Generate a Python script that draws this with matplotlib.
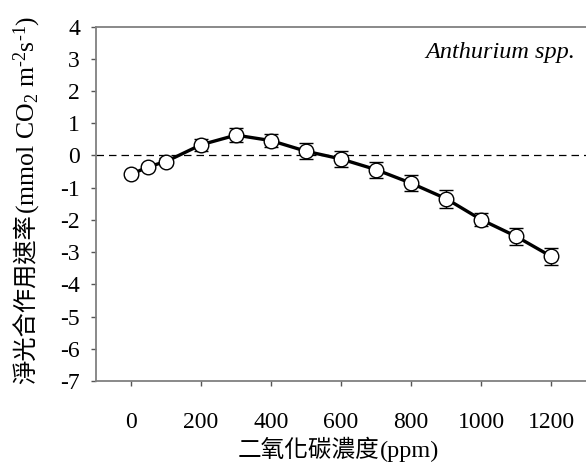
import matplotlib
matplotlib.use("Agg")
import matplotlib.pyplot as plt
import numpy as np

# CO2 concentration (ppm) vs net photosynthesis rate
co2_ppm = [0, 50, 100, 200, 300, 400, 500, 600, 700, 800, 900, 1000, 1100, 1200]
net_rate = [-0.59, -0.35, -0.19, 0.33, 0.63, 0.46, 0.13, -0.11, -0.44, -0.86, -1.34, -1.99, -2.51, -3.13]
rate_err = [0.08, 0.07, 0.10, 0.18, 0.22, 0.19, 0.25, 0.25, 0.25, 0.25, 0.28, 0.21, 0.26, 0.26]
y_ticks = list(range(-7, 5))
x_ticks = [0, 200, 400, 600, 800, 1000, 1200]

plt.rcParams["font.family"] = ["Liberation Serif", "DejaVu Serif", "Noto Sans CJK TC"]
plt.rcParams["axes.unicode_minus"] = False
plt.rcParams["mathtext.fontset"] = "custom"
plt.rcParams["mathtext.rm"] = "Liberation Serif"
plt.rcParams["mathtext.it"] = "Liberation Serif:italic"

fig = plt.figure(figsize=(5.86, 4.65), dpi=100)
ax = fig.add_axes([0.1638, 0.1806, 0.8362, 0.7624])

ax.axhline(0, color="black", lw=0.9, ls=(0, (6, 4)), zorder=1)
ax.errorbar(co2_ppm, net_rate, yerr=rate_err, fmt="none", ecolor="black",
            elinewidth=1.0, capsize=5, capthick=1.0, zorder=2)
ax.plot(co2_ppm, net_rate, color="black", lw=2.4, marker="o", ms=10.5,
        mfc="white", mec="black", mew=1.0, zorder=3)

ax.set_xlim(-100, 1300)
ax.set_ylim(-7, 4)
ax.set_xticks(x_ticks)
ax.set_yticks(y_ticks)
ax.tick_params(axis="both", direction="out", length=3.5, width=1, color="#555555",
               labelsize=17)
ax.tick_params(axis="y", pad=8)
ax.tick_params(axis="x", pad=19)

for side in ["left", "bottom", "top"]:
    ax.spines[side].set_color("#808080")
    ax.spines[side].set_linewidth(1.3)
ax.spines["right"].set_visible(False)

ax.text(1270, 3.2, "Anthurium spp.", style="italic", fontsize=17.5,
        ha="right", va="center")

W, H = 586, 465

# x label: CJK part then the latin part
xlab_cjk = fig.text(238 / W, 1 - 457 / H, "二氧化碳濃度", fontsize=17,
                    ha="left", va="baseline")
# y label in two pieces: CJK part, then the unit part with mathtext
ylab_cjk = fig.text(27 / W, 1 - 384 / H, "淨光合作用速率", rotation=90,
                    fontsize=17.5, ha="center", va="bottom")
fig.canvas.draw()
bx = xlab_cjk.get_window_extent()
fig.text(bx.x1 / fig.bbox.width, 1 - 457 / H, "(ppm)", fontsize=17.5,
         ha="left", va="baseline")
by = ylab_cjk.get_window_extent()
fig.text(27 / W, by.y1 / fig.bbox.height,
         r"(mmol CO$_2$ m$^{\text{-}2}$s$^{\text{-}1}$)",
         rotation=90, fontsize=18.5, ha="center", va="bottom")

fig.savefig("out.png", dpi=100)
